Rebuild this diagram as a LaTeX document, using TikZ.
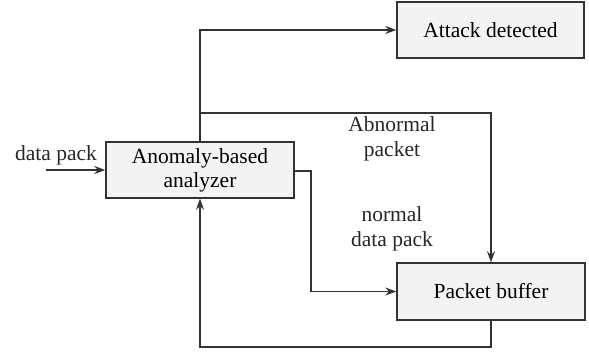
\documentclass[tikz,border=0pt]{standalone}
\usepackage{fontspec}
\setmainfont{Liberation Serif}
\newfontfamily\myserif{Liberation Serif}
\usetikzlibrary{arrows.meta}
\definecolor{boxfill}{HTML}{F3F3F3}
\definecolor{linecol}{HTML}{333333}
\begin{document}
\begin{tikzpicture}[x=1pt,y=-1pt,
  box/.style={draw=linecol,fill=boxfill,line width=1.4pt,inner sep=0pt,align=center,
    font=\myserif\fontsize{21.5}{24}\selectfont},
  conn/.style={draw=linecol,line width=1.4pt,-{Stealth[length=11pt,width=8pt]}},
  lbl/.style={align=center,inner sep=0pt,font=\myserif\fontsize{21.5}{25}\selectfont,text=black!85}]
\useasboundingbox (0,0) rectangle (589,353);
\node[box,minimum width=187pt,minimum height=56pt] (attack) at (490.5,30) {Attack detected};
\node[box,minimum width=188pt,minimum height=56pt] (analyzer) at (200,170) {Anomaly-based\\analyzer};
\node[box,minimum width=188pt,minimum height=57pt] (buffer) at (491,291.5) {Packet buffer};
\coordinate (in) at (46,170);
\coordinate (split) at (200,113);
\coordinate (bend) at (311,171);
\coordinate (low) at (491,347);
\node[lbl] (ldata) at (56,155) {data pack};
\node[lbl] (labn) at (392,139) {Abnormal\\packet};
\node[lbl] (lnorm) at (392,229) {normal\\data pack};
\draw[conn] (in) -- (analyzer.west);
\draw[conn] (analyzer.north) |- (attack.west);
\draw[conn] (split) -| (buffer.north);
\draw[conn] (analyzer.east |- bend) -- (bend) |- (buffer.west);
\draw[conn] (buffer.south) -- (low) -| (analyzer.south);
\end{tikzpicture}
\end{document}
